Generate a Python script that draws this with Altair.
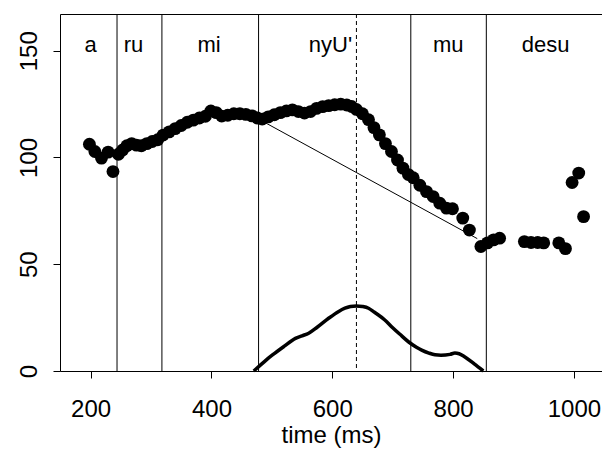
import altair as alt
import pandas as pd

# ---- data ----
pt_time = [198, 207, 218, 229, 237,
           246, 253, 260, 268, 276, 284, 293, 302, 311,
           320, 330, 340, 350, 360, 370, 380, 390, 399, 408, 417, 427, 437, 447, 457, 467, 476,
           484, 494, 504, 514, 524, 534, 544, 554, 564, 574, 584, 594, 604, 614, 624, 632, 640,
           650, 660, 669, 678, 688, 698, 708, 717, 726,
           734, 745, 756, 767, 778, 789, 799, 816, 827,
           846, 857, 867, 877, 918, 929, 940, 950, 975, 986, 997, 1008, 1016]
pt_value = [106.2, 102.8, 99.7, 102.5, 93.4,
            101.5, 103.5, 105.5, 106.5, 105.8, 105.5, 106.5, 107.5, 108.3,
            110.5, 112, 113.5, 115, 116.5, 117.5, 118.5, 119.3, 121.8, 121, 119.4, 119.8, 120.5, 120.5, 120.2, 119.5, 118.5,
            118, 119, 120, 121, 121.8, 122.3, 121.5, 120.8, 121.5, 123, 123.8, 124.3, 124.7, 125, 124.6, 123.9, 122.5,
            120.5, 117.7, 114, 110.6, 106.5, 102.8, 98.8, 95, 92,
            90.5, 87, 84, 81.7, 78.6, 76.3, 76, 71.6, 66,
            58.3, 60, 61.4, 62.2, 60.6, 60.2, 60.2, 60, 60, 57.3, 88.3, 92.7, 72.3]

seg_bounds = [243.7, 318, 478, 730, 855]
peak_time = [640]
seg_labels = ["a", "ru", "mi", "nyU'", "mu", "desu"]
seg_label_time = [200, 271, 396, 597, 792, 953]
seg_label_value = [149.3] * 6

diag_time = [478, 840]
diag_value = [118, 62]

curve_time = [470, 480, 490, 501, 520, 539, 550, 561, 575, 594, 610, 621, 630, 640, 650, 660, 670, 687,
              700, 712, 726, 740, 748, 760, 770, 780, 795, 803, 810, 819, 835, 850]
curve_value = [0, 2.5, 5, 7.5, 11.5, 15.3, 16.5, 17.7, 20.5, 24.7, 27.8, 29.4, 30.2, 30.5, 30.2, 29.4, 27.5, 23.9,
               20.3, 17.2, 13.7, 11, 9.8, 8.4, 7.6, 7.4, 7.8, 8.4, 8.1, 6.7, 3.3, 0]

x_ticks = [200, 400, 600, 800, 1000]
y_ticks = [0, 50, 100, 150]

FONT = "Liberation Sans"

pts = pd.DataFrame({"t": pt_time, "v": pt_value})
bounds = pd.DataFrame({"t": seg_bounds})
peak = pd.DataFrame({"t": peak_time})
labels = pd.DataFrame({"t": seg_label_time, "v": seg_label_value, "lab": seg_labels})
diag = pd.DataFrame({"t": diag_time, "v": diag_value})
curve = pd.DataFrame({"t": curve_time, "v": curve_value})

xscale = alt.Scale(domain=[149.3, 1046.5], nice=False, zero=False)
yscale = alt.Scale(domain=[0, 167.2], nice=False, zero=False)

xaxis = alt.Axis(values=x_ticks, format="d", title="time (ms)", grid=False, domain=False,
                 tickColor="black", tickSize=7, labelFont=FONT, labelFontSize=24,
                 labelColor="black", labelBaseline="alphabetic", labelPadding=38,
                 titleFont=FONT, titleFontSize=24, titleFontWeight="normal",
                 titleColor="black", titleBaseline="alphabetic", titleY=71)
yaxis = alt.Axis(values=y_ticks, format="d", title=None, grid=False, domain=False,
                 tickColor="black", tickSize=7, labelFont=FONT, labelFontSize=24,
                 labelColor="black", labelAngle=270, labelAlign="center",
                 labelBaseline="alphabetic", labelPadding=17)

base_x = alt.X("t:Q", scale=xscale, axis=xaxis)
base_y = alt.Y("v:Q", scale=yscale, axis=yaxis)

rules = alt.Chart(bounds).mark_rule(color="black", strokeWidth=1).encode(
    x=alt.X("t:Q", scale=xscale))
dashed = alt.Chart(peak).mark_rule(color="black", strokeWidth=1, strokeDash=[4, 3]).encode(
    x=alt.X("t:Q", scale=xscale))
texts = alt.Chart(labels).mark_text(font=FONT, fontSize=22, color="black",
                                    baseline="alphabetic", align="center").encode(
    x=alt.X("t:Q", scale=xscale), y=alt.Y("v:Q", scale=yscale), text="lab:N")
diag_line = alt.Chart(diag).mark_line(color="black", strokeWidth=1).encode(
    x=alt.X("t:Q", scale=xscale), y=alt.Y("v:Q", scale=yscale))
curve_line = alt.Chart(curve).mark_line(color="black", strokeWidth=3.5,
                                        interpolate="monotone").encode(
    x=alt.X("t:Q", scale=xscale), y=alt.Y("v:Q", scale=yscale))
points = alt.Chart(pts).mark_circle(color="black", size=165, opacity=1).encode(
    x=base_x, y=base_y)

chart = alt.layer(rules, dashed, diag_line, curve_line, points, texts).properties(
    width=542, height=357,
    padding={"left": 52, "top": 6, "right": 0, "bottom": 80},
    autosize=alt.AutoSizeParams(type="none"),
    background="white",
).configure_view(stroke="black", strokeWidth=1)

chart.save("out.html", embed_options={"renderer": "svg", "actions": False})
